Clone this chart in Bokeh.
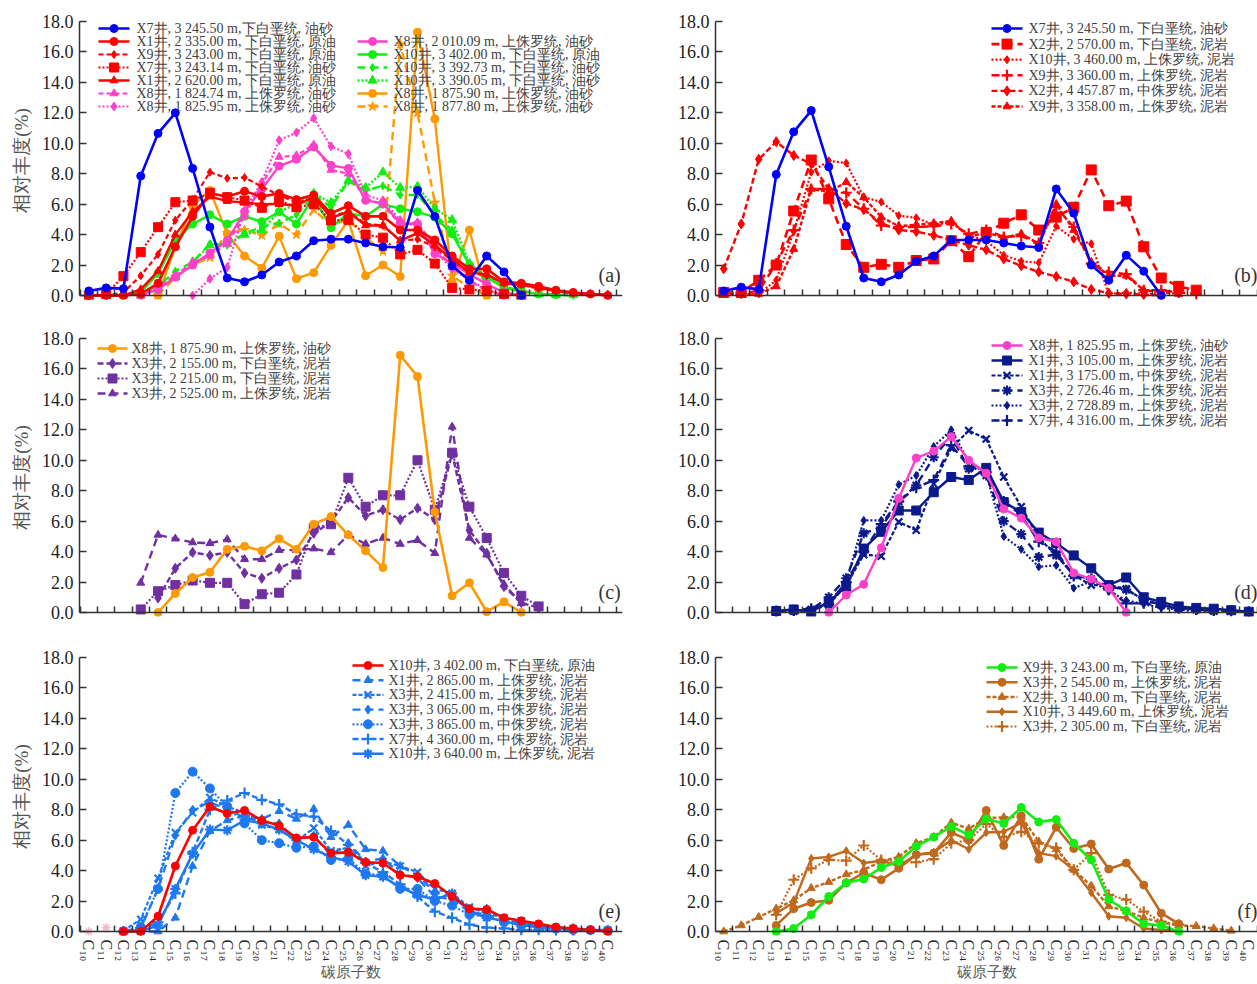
import numpy as np
from bokeh.plotting import figure
from bokeh.models import (Range1d, FixedTicker, NumeralTickFormatter, Label, LinearAxis)
from bokeh.core.properties import value
from bokeh.layouts import column, row
from bokeh.embed import file_html
from bokeh.resources import INLINE

N = None
carbon = list(range(10, 41))
x_tick_labels = ["C₁₀", "C₁₁", "C₁₂", "C₁₃", "C₁₄", "C₁₅", "C₁₆", "C₁₇", "C₁₈", "C₁₉",
                 "C₂₀", "C₂₁", "C₂₂", "C₂₃", "C₂₄", "C₂₅", "C₂₆", "C₂₇", "C₂₈", "C₂₉",
                 "C₃₀", "C₃₁", "C₃₂", "C₃₃", "C₃₄", "C₃₅", "C₃₆", "C₃₇", "C₃₈", "C₃₉", "C₄₀"]
y_ticks = [0, 2, 4, 6, 8, 10, 12, 14, 16, 18]
y_title = "相对丰度(%)"
x_title = "碳原子数"

# ---------------- panel (a) ----------------
a_x7_324550 = [0.3, 0.5, 0.45, 7.85, 10.65, 12.0, 8.35, 4.5, 1.15, 0.9, 1.35, 2.2, 2.6, 3.6, 3.7, 3.7, 3.45, 3.2, 3.15, 6.9, 5.2, 1.95, 1.0, 2.6, 1.55, 0.0, N, N, N, N, N]
a_x1_233500 = [0.0, 0.0, 0.0, 0.1, 0.8, 3.2, 5.2, 6.7, 6.5, 6.85, 6.5, 6.7, 6.3, 6.6, 5.4, 5.9, 5.2, 5.2, 4.3, 4.3, 3.65, 2.6, 1.75, 1.75, 0.9, 0.8, 0.6, 0.35, 0.2, 0.1, 0.0]
a_x9_324300 = [0.0, 0.0, 0.2, 1.3, 2.7, 4.95, 6.3, 8.1, 7.7, 7.75, 7.15, 6.6, 6.1, 6.4, 5.2, 5.5, 4.7, 4.6, 3.6, 3.7, 3.2, 2.3, 1.5, 1.3, 0.8, 0.7, 0.45, 0.3, 0.15, 0.1, 0.0]
a_x7_324314 = [0.0, 0.1, 1.27, 2.85, 4.49, 6.13, 6.24, 6.75, 6.46, 6.24, 5.76, 6.24, 5.8, 6.0, 4.93, 4.97, 4.0, 3.8, 2.7, 3.0, 2.1, 0.5, 0.4, 0.3, 0.1, 0.0, N, N, N, N, N]
a_x1_262000 = [0.0, 0.0, 0.0, 0.4, 1.6, 4.0, 5.5, 6.5, 6.2, 6.1, 6.0, 6.0, 5.9, 6.5, 5.1, 5.5, 4.6, 4.6, 3.6, 4.1, 3.3, 2.4, 1.5, 1.4, 0.8, 0.7, 0.5, 0.3, 0.15, 0.1, 0.05]
a_x8_182474 = [N, N, N, 0.0, 0.6, 1.3, 2.2, 2.6, 3.4, 5.2, 7.35, 9.1, 9.2, 9.9, 8.25, 8.0, 6.35, 6.0, 4.65, 4.8, 3.2, 1.85, 1.0, 0.3, 0.0, N, N, N, N, N, N]
a_x8_182595 = [N, N, N, N, N, N, 0.0, 1.1, 1.86, 5.6, 7.45, 10.2, 10.7, 11.65, 9.8, 9.3, 6.6, 6.25, 4.95, 4.5, 2.95, 1.75, 1.0, 0.4, 0.0, N, N, N, N, N, N]
a_x8_201009 = [N, N, N, 0.0, 0.4, 1.2, 2.0, 2.8, 3.6, 5.5, 7.0, 8.5, 8.95, 9.75, 8.55, 8.35, 6.25, 6.05, 4.75, 4.7, 2.75, 2.1, 1.4, 0.75, 0.2, 0.0, N, N, N, N, N]
a_x10_340200 = [0.0, 0.0, 0.0, 0.2, 1.45, 3.6, 4.7, 5.3, 4.7, 5.2, 4.85, 5.5, 4.7, 6.5, 4.45, 5.4, 5.2, 6.0, 5.7, 5.5, 5.15, 4.05, 2.0, 1.2, 0.5, 0.3, 0.1, 0.05, N, N, N]
a_x10_339273 = [N, N, N, 0.0, 0.6, 1.6, 2.2, 3.4, 3.3, 4.1, 4.5, 4.75, 5.3, 6.6, 5.8, 7.5, 6.9, 7.2, 6.6, 6.6, 5.3, 4.3, 2.0, 1.3, 0.6, 0.3, 0.1, 0.05, 0.0, N, N]
a_x10_339005 = [N, N, N, 0.0, 0.4, 1.2, 2.2, 3.3, 3.4, 4.0, 4.3, 5.5, 6.0, 6.7, 6.1, 7.55, 7.08, 8.1, 7.08, 7.16, 5.7, 4.97, 2.1, 1.2, 0.55, 0.2, 0.1, 0.05, 0.05, N, N]
a_x8_187590 = [N, N, N, N, 0.0, 3.2, 5.9, 6.9, 4.05, 2.6, 1.8, 3.9, 1.1, 1.5, 3.3, 4.93, 1.3, 2.0, 1.25, 17.3, 11.6, 0.9, 4.3, 0.0, N, N, N, N, N, N, N]
a_x8_187780 = [N, N, N, N, 0.0, 1.2, 2.0, 2.5, 4.1, 4.3, 3.95, 4.7, 4.0, 5.65, 4.6, 5.0, 3.8, 2.9, 16.5, 12.0, 6.1, 1.3, 0.5, 0.0, N, N, N, N, N, N, N]

# ---------------- panel (b) ----------------
b_x7_324550 = [0.3, 0.55, 0.4, 7.95, 10.75, 12.15, 8.45, 4.55, 1.15, 0.9, 1.35, 2.25, 2.6, 3.65, 3.65, 3.65, 3.45, 3.25, 3.15, 7.0, 5.4, 2.0, 1.0, 2.65, 1.6, 0.0, N, N, N, N, N]
b_x2_257000 = [0.2, 0.2, 1.0, 2.0, 5.55, 8.9, 6.35, 3.35, 1.85, 2.05, 1.85, 2.3, 2.4, 3.6, 2.55, 4.15, 4.75, 5.3, 4.3, 5.15, 5.8, 8.25, 5.9, 6.2, 3.2, 1.15, 0.6, 0.35, N, N, N]
b_x10_346000 = [0.2, 0.1, 0.1, 1.0, 4.2, 8.1, 8.85, 8.7, 6.45, 6.15, 5.25, 5.1, 4.65, 4.8, 3.95, 3.6, 2.65, 2.25, 2.15, 4.55, 3.7, 3.4, 0.1, 0.2, 0.1, 0.1, N, N, N, N, N]
b_x9_336000 = [0.2, 0.15, 0.3, 2.1, 4.3, 7.0, 7.0, 6.75, 5.7, 4.6, 4.5, 4.5, 4.55, 4.7, 4.05, 4.3, 3.85, 3.9, 3.45, 5.8, 4.5, 2.1, 1.55, 1.4, 0.35, 0.35, 0.2, 0.1, N, N, N]
b_x2_445787 = [1.75, 4.7, 8.95, 10.1, 9.2, 8.65, 7.0, 6.05, 5.65, 4.75, 4.3, 4.2, 3.95, 3.65, 3.3, 3.0, 2.4, 1.95, 1.55, 1.25, 0.9, 0.4, 0.15, 0.1, 0.05, 0.0, N, N, N, N, N]
b_x9_335800 = [0.1, 0.05, 0.1, 0.6, 3.05, 7.0, 6.8, 7.45, 6.45, 5.15, 4.55, 4.65, 4.75, 4.9, 3.85, 4.15, 3.8, 4.05, 3.4, 6.0, 4.3, 2.2, 1.3, 1.3, 0.35, 0.2, 0.1, N, N, N, N]

# ---------------- panel (c) ----------------
c_x8_187590 = [N, N, N, N, 0.0, 1.25, 2.3, 2.65, 4.15, 4.35, 4.05, 4.85, 4.15, 5.8, 6.3, 5.1, 4.05, 2.95, 16.9, 15.5, 6.6, 1.1, 1.95, 0.05, 0.7, 0.0, N, N, N, N, N]
c_x3_215500 = [N, N, N, N, 0.95, 2.9, 3.95, 3.75, 3.95, 2.6, 2.25, 2.9, 3.45, 5.2, 5.95, 7.55, 6.35, 6.75, 6.1, 6.85, 6.1, 10.45, 5.4, 3.9, 1.7, 0.65, 0.3, N, N, N, N]
c_x3_221500 = [N, N, N, 0.2, 1.4, 1.8, 2.1, 1.95, 1.95, 0.55, 1.2, 1.3, 2.5, 5.55, 5.8, 8.85, 6.95, 7.7, 7.7, 10.0, 6.75, 10.5, 6.95, 4.9, 2.6, 1.1, 0.4, N, N, N, N]
c_x3_252500 = [N, N, N, 1.95, 5.1, 4.85, 4.6, 4.55, 4.8, 3.5, 3.5, 4.1, 4.1, 4.2, 3.95, 5.1, 4.5, 4.9, 4.5, 4.75, 3.9, 12.2, 4.9, 3.8, 1.85, 0.6, N, N, N, N, N]

# ---------------- panel (d) ----------------
d_x8_182595 = [N, N, N, N, N, N, 0.0, 1.15, 1.85, 4.25, 7.5, 10.15, 10.6, 11.55, 10.0, 9.15, 6.8, 6.2, 4.9, 4.65, 2.6, 2.2, 1.6, 0.0, N, N, N, N, N, N, N]
d_x1_310500 = [N, N, N, 0.1, 0.2, 0.05, 0.7, 1.7, 4.2, 5.3, 6.7, 6.7, 7.9, 8.9, 8.7, 9.5, 7.25, 6.6, 5.25, 4.55, 3.75, 2.9, 1.8, 2.3, 1.0, 0.7, 0.4, 0.3, 0.25, 0.15, 0.05]
d_x1_317500 = [N, N, N, 0.1, 0.1, 0.15, 0.5, 1.8, 3.8, 3.7, 5.95, 5.4, 8.45, 10.8, 11.95, 11.4, 8.9, 6.95, 4.9, 3.75, 2.45, 1.8, 1.8, 1.55, 0.8, 0.5, 0.3, 0.2, 0.1, N, N]
d_x3_272646 = [N, N, N, 0.05, 0.1, 0.2, 1.0, 2.25, 5.2, 5.6, 7.3, 8.35, 10.2, 11.6, 9.45, 9.0, 6.0, 5.15, 3.65, 3.8, 2.45, 2.2, 1.7, 1.5, 0.85, 0.5, 0.3, 0.2, 0.1, N, N]
d_x3_272889 = [N, N, N, 0.05, 0.1, 0.2, 0.6, 2.0, 6.05, 6.05, 8.4, 9.0, 10.9, 12.0, 9.9, 9.1, 5.0, 4.15, 3.0, 3.1, 1.6, 2.05, 1.4, 0.8, 0.55, 0.3, 0.2, 0.1, N, N, N]
d_x7_431600 = [N, N, N, 0.1, 0.15, 0.25, 0.55, 2.0, 4.0, 5.8, 7.3, 8.2, 8.7, 11.0, 9.6, 9.2, 7.3, 6.4, 4.65, 4.0, 2.4, 2.2, 1.5, 0.6, 0.6, 0.4, 0.3, 0.2, 0.15, 0.1, 0.05]

# ---------------- panel (e) ----------------
e_x10_340200 = [N, N, 0.0, 0.0, 1.0, 4.3, 6.65, 8.2, 7.75, 7.95, 7.3, 6.95, 6.15, 6.2, 5.15, 5.2, 4.55, 4.5, 3.7, 3.6, 3.15, 2.3, 1.5, 1.45, 0.9, 0.7, 0.5, 0.3, 0.2, 0.1, 0.0]
e_x1_286500 = [N, N, 0.0, 0.0, 0.0, 0.9, 4.3, 6.6, 7.3, 7.6, 7.4, 7.9, 7.4, 8.05, 6.2, 7.0, 5.4, 5.3, 4.3, 3.7, 2.6, 2.3, 1.4, 1.5, 0.8, 0.6, 0.3, 0.2, 0.1, 0.05, 0.05]
e_x3_241500 = [N, N, 0.05, 0.8, 3.5, 6.5, 7.8, 8.8, 8.2, 7.8, 7.0, 6.7, 5.9, 6.8, 5.3, 5.5, 4.3, 4.6, 4.3, 3.9, 2.8, 2.5, 1.6, 1.2, 0.9, 0.7, 0.4, 0.2, 0.15, 0.1, 0.05]
e_x3_306500 = [N, N, 0.05, 0.2, 2.8, 6.3, 8.0, 8.5, 8.0, 7.5, 7.2, 7.1, 6.0, 6.3, 5.0, 5.8, 4.6, 4.8, 3.8, 3.5, 2.3, 2.1, 1.3, 1.1, 0.8, 0.5, 0.4, 0.2, 0.15, 0.05, 0.05]
e_x3_386500 = [N, N, 0.0, 0.3, 2.8, 9.1, 10.5, 9.4, 8.2, 7.1, 6.0, 5.8, 5.5, 5.6, 4.7, 4.8, 3.8, 3.7, 2.8, 2.8, 2.0, 1.7, 1.1, 1.0, 0.6, 0.4, 0.3, 0.2, 0.1, 0.1, 0.05]
e_x7_436000 = [N, N, 0.0, 0.1, 0.6, 2.5, 5.2, 8.0, 8.6, 9.1, 8.65, 8.35, 7.7, 7.55, 6.6, 5.7, 4.5, 3.9, 3.1, 2.3, 1.3, 0.9, 0.45, 0.25, 0.2, 0.1, 0.1, 0.05, 0.05, N, N]
e_x10_364000 = [N, N, 0.0, 0.0, 0.4, 2.8, 5.1, 6.7, 6.65, 7.3, 7.1, 6.7, 6.0, 5.4, 4.9, 4.6, 3.7, 3.6, 2.9, 2.4, 2.1, 2.5, 1.3, 0.9, 0.7, 0.4, 0.3, 0.2, 0.2, 0.1, 0.1]
e_faint = [0.0, 0.25, N, N, N, N, N, N, N, N, N, N, N, N, N, N, N, N, N, N, N, N, N, N, N, N, N, N, N, N, N]

# ---------------- panel (f) ----------------
f_x9_324300 = [N, N, N, 0.0, 0.2, 1.1, 2.3, 3.2, 3.45, 4.2, 4.6, 5.6, 6.2, 6.9, 6.35, 7.4, 7.1, 8.15, 7.2, 7.35, 5.8, 4.7, 2.1, 1.35, 0.5, 0.4, 0.0, N, N, N, N]
f_x3_254500 = [N, N, N, 0.4, 1.5, 1.9, 2.05, 3.2, 3.85, 3.4, 4.15, 5.05, 5.15, 6.5, 6.0, 7.95, 5.65, 7.6, 4.75, 6.85, 5.45, 5.75, 4.1, 4.5, 3.05, 1.2, 0.5, N, N, N, N]
f_x2_314000 = [0.0, 0.4, 0.95, 1.5, 2.05, 2.85, 3.25, 3.75, 4.05, 4.6, 4.9, 5.8, 6.2, 7.15, 6.75, 7.45, 7.5, 7.55, 5.9, 5.4, 4.05, 3.0, 1.65, 1.35, 0.9, 0.6, 0.4, 0.35, 0.2, 0.05, N]
f_x10_344960 = [N, N, N, 1.2, 1.9, 4.8, 4.9, 5.3, 4.5, 4.65, 4.3, 5.05, 5.2, 6.0, 5.4, 6.5, 6.55, 7.15, 5.15, 4.95, 4.05, 2.55, 1.0, 0.9, 0.2, 0.1, 0.05, N, N, N, N]
f_x3_230500 = [N, N, N, 1.1, 3.4, 4.15, 4.7, 4.65, 5.65, 4.7, 4.55, 4.55, 4.75, 5.8, 6.0, 7.05, 6.2, 6.55, 5.8, 5.5, 4.05, 5.15, 2.4, 2.1, 1.3, 0.65, 0.45, N, N, N, N]

# ---------------- styles ----------------
FONT = "Liberation Serif"
BLUE, RED, PINK, GREEN, ORANGE = "#0000FF", "#FF0000", "#FF40C8", "#11EE11", "#FF9900"
PURPLE, NAVY, SKY, BROWN = "#7030A0", "#0A1A8C", "#1E78F0", "#C0681C"
AX = "#333333"

PX_PER_UNIT = 274.0 / 18.0
FRAME_H = 278
Y0 = -(FRAME_H - 274) / PX_PER_UNIT
LEFT_XR = (9.46, 40.85)
RIGHT_XR = (9.53, 40.50)

# (label, values, color, dash, marker, size, line width)
series_a = [
    ("X7井, 3 245.50 m,下白垩统, 油砂", a_x7_324550, BLUE, "solid", "circle", 8, 2.6),
    ("X1井, 2 335.00 m, 下白垩统, 原油", a_x1_233500, RED, "solid", "circle", 8, 2.6),
    ("X9井, 3 243.00 m, 下白垩统, 原油", a_x9_324300, RED, "5 3", "diamond", 8, 2.2),
    ("X7井, 3 243.14 m, 下白垩统, 油砂", a_x7_324314, RED, "2 2", "square", 9, 2.2),
    ("X1井, 2 620.00 m, 下白垩统, 原油", a_x1_262000, RED, "solid", "triangle", 8, 2.4),
    ("X8井, 1 824.74 m, 上侏罗统, 油砂", a_x8_182474, PINK, "5 3", "triangle", 8, 2.2),
    ("X8井, 1 825.95 m, 上侏罗统, 油砂", a_x8_182595, PINK, "2 2", "diamond", 9, 2.2),
    ("X8井, 2 010.09 m, 上侏罗统, 油砂", a_x8_201009, PINK, "solid", "circle", 8, 2.4),
    ("X10井, 3 402.00 m, 下白垩统, 原油", a_x10_340200, GREEN, "solid", "circle", 8, 2.4),
    ("X10井, 3 392.73 m, 下白垩统, 油砂", a_x10_339273, GREEN, "8 5", "diamond", 8, 2.4),
    ("X10井, 3 390.05 m, 下白垩统, 油砂", a_x10_339005, GREEN, "2 2", "triangle", 9, 2.4),
    ("X8井, 1 875.90 m, 上侏罗统, 油砂", a_x8_187590, ORANGE, "solid", "circle", 8, 2.4),
    ("X8井, 1 877.80 m, 上侏罗统, 油砂", a_x8_187780, ORANGE, "8 5", "star", 10, 2.4),
]
series_b = [
    ("X7井, 3 245.50 m, 下白垩统, 油砂", b_x7_324550, BLUE, "solid", "circle", 8, 2.6),
    ("X2井, 2 570.00 m, 下白垩统, 泥岩", b_x2_257000, RED, "8 5", "square", 10, 2.6),
    ("X10井, 3 460.00 m, 上侏罗统, 泥岩", b_x10_346000, RED, "2 2", "diamond", 8, 2.2),
    ("X9井, 3 360.00 m, 上侏罗统, 泥岩", b_x9_336000, RED, "8 5", "cross", 11, 2.4),
    ("X2井, 4 457.87 m, 中侏罗统, 泥岩", b_x2_445787, RED, "6 3", "diamond", 10, 2.4),
    ("X9井, 3 358.00 m, 上侏罗统, 泥岩", b_x9_335800, RED, "4 2", "triangle", 8, 2.4),
]
series_c = [
    ("X8井, 1 875.90 m, 上侏罗统, 油砂", c_x8_187590, ORANGE, "solid", "circle", 8, 2.6),
    ("X3井, 2 155.00 m, 下白垩统, 泥岩", c_x3_215500, PURPLE, "6 3", "diamond", 10, 2.4),
    ("X3井, 2 215.00 m, 下白垩统, 泥岩", c_x3_221500, PURPLE, "2 2", "square", 9, 2.2),
    ("X3井, 2 525.00 m, 上侏罗统, 泥岩", c_x3_252500, PURPLE, "8 5", "triangle", 8, 2.4),
]
series_d = [
    ("X8井, 1 825.95 m, 上侏罗统, 油砂", d_x8_182595, PINK, "solid", "circle", 8, 2.4),
    ("X1井, 3 105.00 m, 上侏罗统, 泥岩", d_x1_310500, NAVY, "solid", "square", 9, 2.4),
    ("X1井, 3 175.00 m, 中侏罗统, 泥岩", d_x1_317500, NAVY, "4 2", "x", 10, 2.2),
    ("X3井, 2 726.46 m, 上侏罗统, 泥岩", d_x3_272646, NAVY, "8 5", "asterisk", 10, 2.4),
    ("X3井, 2 728.89 m, 上侏罗统, 泥岩", d_x3_272889, NAVY, "2 2", "diamond", 8, 2.2),
    ("X7井, 4 316.00 m, 上侏罗统, 泥岩", d_x7_431600, NAVY, "8 5", "cross", 11, 2.4),
]
series_e = [
    ("X10井, 3 402.00 m, 下白垩统, 原油", e_x10_340200, RED, "solid", "circle", 8, 2.6),
    ("X1井, 2 865.00 m, 上侏罗统, 泥岩", e_x1_286500, SKY, "8 5", "triangle", 8, 2.4),
    ("X3井, 2 415.00 m, 上侏罗统, 泥岩", e_x3_241500, SKY, "4 2", "x", 10, 2.2),
    ("X3井, 3 065.00 m, 中侏罗统, 泥岩", e_x3_306500, SKY, "8 5", "diamond", 9, 2.4),
    ("X3井, 3 865.00 m, 中侏罗统, 泥岩", e_x3_386500, SKY, "2 2", "circle", 9, 2.2),
    ("X7井, 4 360.00 m, 中侏罗统, 泥岩", e_x7_436000, SKY, "6 3", "cross", 11, 2.4),
    ("X10井, 3 640.00 m, 上侏罗统, 泥岩", e_x10_364000, SKY, "solid", "asterisk", 10, 2.4),
]
series_f = [
    ("X9井, 3 243.00 m, 下白垩统, 原油", f_x9_324300, GREEN, "solid", "circle", 8, 2.6),
    ("X3井, 2 545.00 m, 上侏罗统, 泥岩", f_x3_254500, BROWN, "solid", "circle", 8, 2.6),
    ("X2井, 3 140.00 m, 下白垩统, 泥岩", f_x2_314000, BROWN, "4 2", "triangle", 8, 2.4),
    ("X10井, 3 449.60 m, 上侏罗统, 泥岩", f_x10_344960, BROWN, "solid", "diamond", 8, 2.4),
    ("X3井, 2 305.00 m, 下白垩统, 泥岩", f_x3_230500, BROWN, "2 2", "cross", 11, 2.2),
]

LINE_MARKERS = ("x", "asterisk", "cross")


def make_panel(width, left, right, height, top, xr, series, legend_cols, tag, tag_x,
               ylabel=False, xlabels=False, faint=None):
    """legend_cols: list of (indices, glyph x0 px, glyph x1 px, text x px, first row y px, row step px),
    pixels measured from the frame's top-left corner."""
    p = figure(width=width, height=height, x_range=Range1d(*xr), y_range=Range1d(Y0, 18.0),
               output_backend="svg", toolbar_location=None,
               min_border_left=left, min_border_right=right,
               min_border_top=top, min_border_bottom=height - top - FRAME_H)
    p.outline_line_color = None
    p.grid.visible = False
    p.background_fill_color = "white"
    p.border_fill_color = "white"

    frame_w = width - left - right
    px_x = frame_w / (xr[1] - xr[0])

    def dx(px):
        return xr[0] + px / px_x

    def dy(py):
        return (274.0 - py) / PX_PER_UNIT

    if faint is not None:
        p.scatter(carbon, np.array(faint, dtype=float), marker="asterisk", size=9,
                  line_color="#F2B8C6", line_width=1.5)

    def draw(xs, ys, color, dash, marker, size, lw):
        p.line(xs, ys, line_color=color, line_width=lw, line_dash=dash)
        if marker in LINE_MARKERS:
            p.scatter(xs, ys, marker=marker, size=size, line_color=color, line_width=2.2)
        else:
            p.scatter(xs, ys, marker=marker, size=size, fill_color=color,
                      line_color=color, line_width=1)

    for i in range(len(series) - 1, -1, -1):
        label, vals, color, dash, marker, size, lw = series[i]
        draw(carbon, np.array(vals, dtype=float), color, dash, marker, size, lw)

    # legend (drawn as glyphs so that row spacing matches the original)
    for idxs, gx0, gx1, tx, ry0, step in legend_cols:
        tx_list, ty_list, txt_list = [], [], []
        for k, i in enumerate(idxs):
            label, vals, color, dash, marker, size, lw = series[i]
            yy = dy(ry0 + k * step)
            p.line([dx(gx0), dx(gx1)], [yy, yy], line_color=color, line_width=lw, line_dash=dash)
            mx = dx((gx0 + gx1) / 2.0)
            if marker in LINE_MARKERS:
                p.scatter([mx], [yy], marker=marker, size=size, line_color=color, line_width=2.2)
            else:
                p.scatter([mx], [yy], marker=marker, size=size, fill_color=color,
                          line_color=color, line_width=1)
            tx_list.append(dx(tx))
            ty_list.append(yy)
            txt_list.append(label)
        p.text(x=tx_list, y=ty_list, text=txt_list, text_baseline="middle", text_align="left",
               text_font=value(FONT), text_font_size="14px", text_color="#404040")

    # y axis
    ya = p.yaxis[0]
    ya.ticker = FixedTicker(ticks=y_ticks)
    ya.formatter = NumeralTickFormatter(format="0.0")
    ya.bounds = (0, 18)
    ya.major_tick_in = 7
    ya.major_tick_out = 0
    ya.minor_tick_in = 0
    ya.minor_tick_out = 0
    ya.axis_line_color = AX
    ya.axis_line_width = 1.5
    ya.major_tick_line_color = AX
    ya.major_tick_line_width = 1.5
    ya.major_label_text_font = FONT
    ya.major_label_text_font_size = "18px"
    ya.major_label_text_color = "#222222"
    ya.major_label_standoff = 6
    if ylabel:
        ya.axis_label = y_title
        ya.axis_label_text_font = FONT
        ya.axis_label_text_font_size = "19px"
        ya.axis_label_text_font_style = "normal"
        ya.axis_label_text_color = "#555555"
        ya.axis_label_standoff = 7

    # x axis line + inward ticks at y = 0
    xa = p.xaxis[0]
    xa.fixed_location = 0
    xa.ticker = FixedTicker(ticks=carbon, minor_ticks=[c - 0.5 for c in carbon] + [40.5])
    xa.major_tick_in = 0
    xa.major_tick_out = 0
    xa.minor_tick_in = 6
    xa.minor_tick_out = 0
    xa.minor_tick_line_color = AX
    xa.minor_tick_line_width = 1.5
    xa.axis_line_color = AX
    xa.axis_line_width = 1.5
    xa.major_label_overrides = {c: "" for c in carbon}
    xa.major_label_text_font_size = "1px"

    if xlabels:
        lab = LinearAxis(ticker=FixedTicker(ticks=carbon),
                         major_label_overrides={c: t for c, t in zip(carbon, x_tick_labels)},
                         major_label_orientation="vertical",
                         major_label_text_font=FONT,
                         major_label_text_font_size="16px",
                         major_label_text_color="#222222",
                         major_label_standoff=4,
                         axis_line_color=None, major_tick_line_color=None,
                         minor_tick_line_color=None,
                         major_tick_in=0, major_tick_out=0, minor_tick_in=0, minor_tick_out=0,
                         axis_label=x_title, axis_label_text_font=FONT,
                         axis_label_text_font_size="15px", axis_label_text_font_style="normal",
                         axis_label_text_color="#555555", axis_label_standoff=0)
        p.add_layout(lab, "below")

    p.add_layout(Label(x=tag_x, y=1.35, text=tag, text_align="right", text_baseline="middle",
                       text_font=FONT, text_font_size="20px", text_color="#333333"))
    return p


# legend geometry, px from the frame's top-left corner (left frames start at x=79, right at x=715)
pa = make_panel(636, 79, 14, 317, 21, LEFT_XR, series_a,
                [([0, 1, 2, 3, 4, 5, 6], 19, 50, 57, 7, 13.0),
                 ([7, 8, 9, 10, 11, 12], 278, 308, 314, 20, 13.0)],
                "(a)", 40.75, ylabel=True)
pb = make_panel(621, 79, 0, 317, 21, RIGHT_XR, series_b,
                [([0, 1, 2, 3, 4, 5], 276, 307, 313, 7, 15.6)], "(b)", 40.5)
pc = make_panel(636, 79, 14, 316, 21, LEFT_XR, series_c,
                [([0, 1, 2, 3], 18, 48, 52, 10, 15.0)], "(c)", 40.75, ylabel=True)
pd = make_panel(621, 79, 0, 316, 21, RIGHT_XR, series_d,
                [([0, 1, 2, 3, 4, 5], 276, 307, 313, 7, 15.0)], "(d)", 40.5)
pe = make_panel(636, 79, 14, 351, 24, LEFT_XR, series_e,
                [([0, 1, 2, 3, 4, 5, 6], 273, 304, 309, 8, 14.7)], "(e)", 40.75,
                ylabel=True, xlabels=True, faint=e_faint)
pf = make_panel(621, 79, 0, 351, 24, RIGHT_XR, series_f,
                [([0, 1, 2, 3, 4], 271, 302, 307, 10, 14.75)], "(f)", 40.5, xlabels=True)

layout = column(row(pa, pb), row(pc, pd), row(pe, pf))
open("out.html", "w").write(file_html(layout, INLINE))
